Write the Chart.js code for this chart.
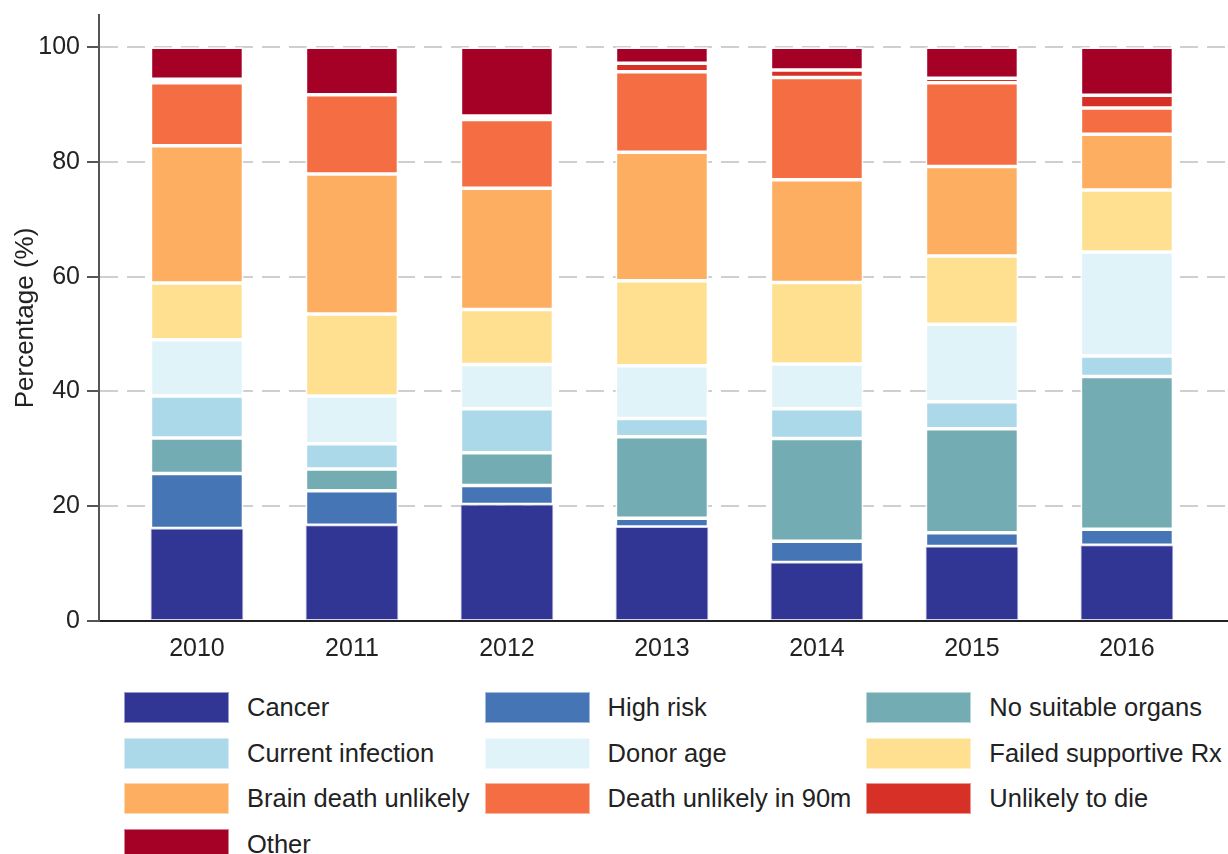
<!DOCTYPE html>
<html>
<head>
<meta charset="utf-8">
<script src="https://cdn.jsdelivr.net/npm/chart.js@4.4.1/dist/chart.umd.min.js"></script>
<style>
    html, body { margin: 0; padding: 0; background: #fff; overflow: hidden; }
    #wrap { position: relative; width: 1228px; height: 854px; }
    #chartBox { position: absolute; left: 0; top: 0; width: 1228px; height: 679px; }
    #legend {
        position: absolute; left: 124px; top: 685px;
        display: grid; grid-template-columns: auto auto auto;
        grid-auto-rows: 45.5px; column-gap: 15px;
        font-family: "Liberation Sans", Arial, sans-serif; font-size: 25.5px; color: #222;
    }
    .item { display: flex; align-items: center; white-space: nowrap; }
    .swatch { width: 105px; height: 31px; margin-right: 18px; box-sizing: border-box; }
</style>
</head>
<body>
<div id="wrap">
    <div id="chartBox"><canvas id="reasonsChart"></canvas></div>
    <div id="legend"></div>
</div>
<script>
'use strict';

var years = [2010, 2011, 2012, 2013, 2014, 2015, 2016];
var yTicks = [0, 20, 40, 60, 80, 100];

// percentages per year, stacked bottom to top in this order
var cancer         = [16.1, 16.7, 20.3, 16.4, 10.2, 13.0, 13.2];
var highRisk       = [ 9.6,  6.0,  3.3,  1.5,  3.7,  2.4,  2.8];
var noOrgans       = [ 6.2,  3.8,  5.7, 14.2, 17.9, 18.1, 26.6];
var infection      = [ 7.3,  4.4,  7.7,  3.2,  5.2,  4.7,  3.6];
var donorAge       = [ 9.8,  8.3,  7.7,  9.2,  7.8, 13.5, 18.1];
var failedRx       = [ 9.9, 14.3,  9.6, 14.8, 14.2, 11.9, 10.8];
var brainDeath     = [23.9, 24.4, 21.1, 22.4, 17.9, 15.6,  9.7];
var deathUnlikely  = [11.0, 13.8, 12.0, 14.0, 17.8, 14.6,  4.6];
var unlikelyToDie  = [ 0.6,  0.0,  0.6,  1.5,  1.3,  0.8,  2.2];
var other          = [ 5.6,  8.3, 12.0,  2.8,  4.0,  5.4,  8.4];

var series = [
    { label: 'Cancer',                values: cancer,        color: '#313695' },
    { label: 'High risk',             values: highRisk,      color: '#4575b4' },
    { label: 'No suitable organs',    values: noOrgans,      color: '#74acb4' },
    { label: 'Current infection',     values: infection,     color: '#abd9e9' },
    { label: 'Donor age',             values: donorAge,      color: '#e0f3f8' },
    { label: 'Failed supportive Rx',  values: failedRx,      color: '#fee090' },
    { label: 'Brain death unlikely',  values: brainDeath,    color: '#fdae61' },
    { label: 'Death unlikely in 90m', values: deathUnlikely, color: '#f46d43' },
    { label: 'Unlikely to die',       values: unlikelyToDie, color: '#d73027' },
    { label: 'Other',                 values: other,         color: '#a50026' }
];

var fontFamily = '"Liberation Sans", Arial, sans-serif';

var datasets = series.map(function (s, i) {
    return {
        label: s.label,
        data: s.values.map(function (v, j) { return { x: years[j], y: v }; }),
        backgroundColor: s.color,
        borderColor: i === 0 ? 'rgba(205, 205, 235, 0.9)' : '#ffffff',
        borderWidth: i === 0 ? 1 : 1.75,
        borderSkipped: false,
        barPercentage: 1,
        categoryPercentage: 0.6
    };
});

var reasonsChart = new Chart(document.getElementById('reasonsChart'), {
    type: 'bar',
    data: { datasets: datasets },
    options: {
        responsive: true,
        maintainAspectRatio: false,
        animation: false,
        layout: { padding: { top: 15, right: 0, bottom: 2, left: 0 } },
        plugins: {
            legend: { display: false },
            tooltip: { enabled: false }
        },
        scales: {
            x: {
                type: 'linear',
                stacked: true,
                offset: false,
                min: 2009.368,
                max: 2016.652,
                grid: { display: false, drawTicks: false },
                border: { display: true, color: '#222', width: 2 },
                ticks: {
                    stepSize: 1,
                    includeBounds: false,
                    autoSkip: false,
                    padding: 13,
                    color: '#222',
                    font: { family: fontFamily, size: 25 },
                    callback: function (v) { return years.indexOf(v) >= 0 ? String(v) : ''; }
                }
            },
            y: {
                stacked: true,
                min: 0,
                max: 105.6,
                afterFit: function (scale) {
                    scale.width = 99;
                    scale.paddingTop = 0;
                    scale.paddingBottom = 0;
                },
                afterBuildTicks: function (scale) {
                    scale.ticks = yTicks.map(function (v) { return { value: v }; });
                },
                grid: {
                    color: '#cfcfcf',
                    lineWidth: 2,
                    drawTicks: true,
                    tickLength: 12,
                    tickColor: '#555',
                    tickWidth: 2,
                    tickBorderDash: []
                },
                border: { display: true, color: '#555', width: 2, dash: [18, 9] },
                ticks: {
                    padding: 7,
                    color: '#222',
                    font: { family: fontFamily, size: 25 }
                },
                title: {
                    display: true,
                    text: 'Percentage (%)',
                    color: '#222',
                    padding: { top: 10, bottom: 0 },
                    font: { family: fontFamily, size: 26 }
                }
            }
        }
    }
});

// legend laid out in three aligned columns
var legendBox = document.getElementById('legend');
reasonsChart.data.datasets.forEach(function (ds) {
    var item = document.createElement('div');
    item.className = 'item';
    var sw = document.createElement('span');
    sw.className = 'swatch';
    sw.style.background = ds.backgroundColor;
    sw.style.border = '1px solid rgba(255,255,255,0.5)';
    var txt = document.createElement('span');
    txt.textContent = ds.label;
    item.appendChild(sw);
    item.appendChild(txt);
    legendBox.appendChild(item);
});
</script>
</body>
</html>
